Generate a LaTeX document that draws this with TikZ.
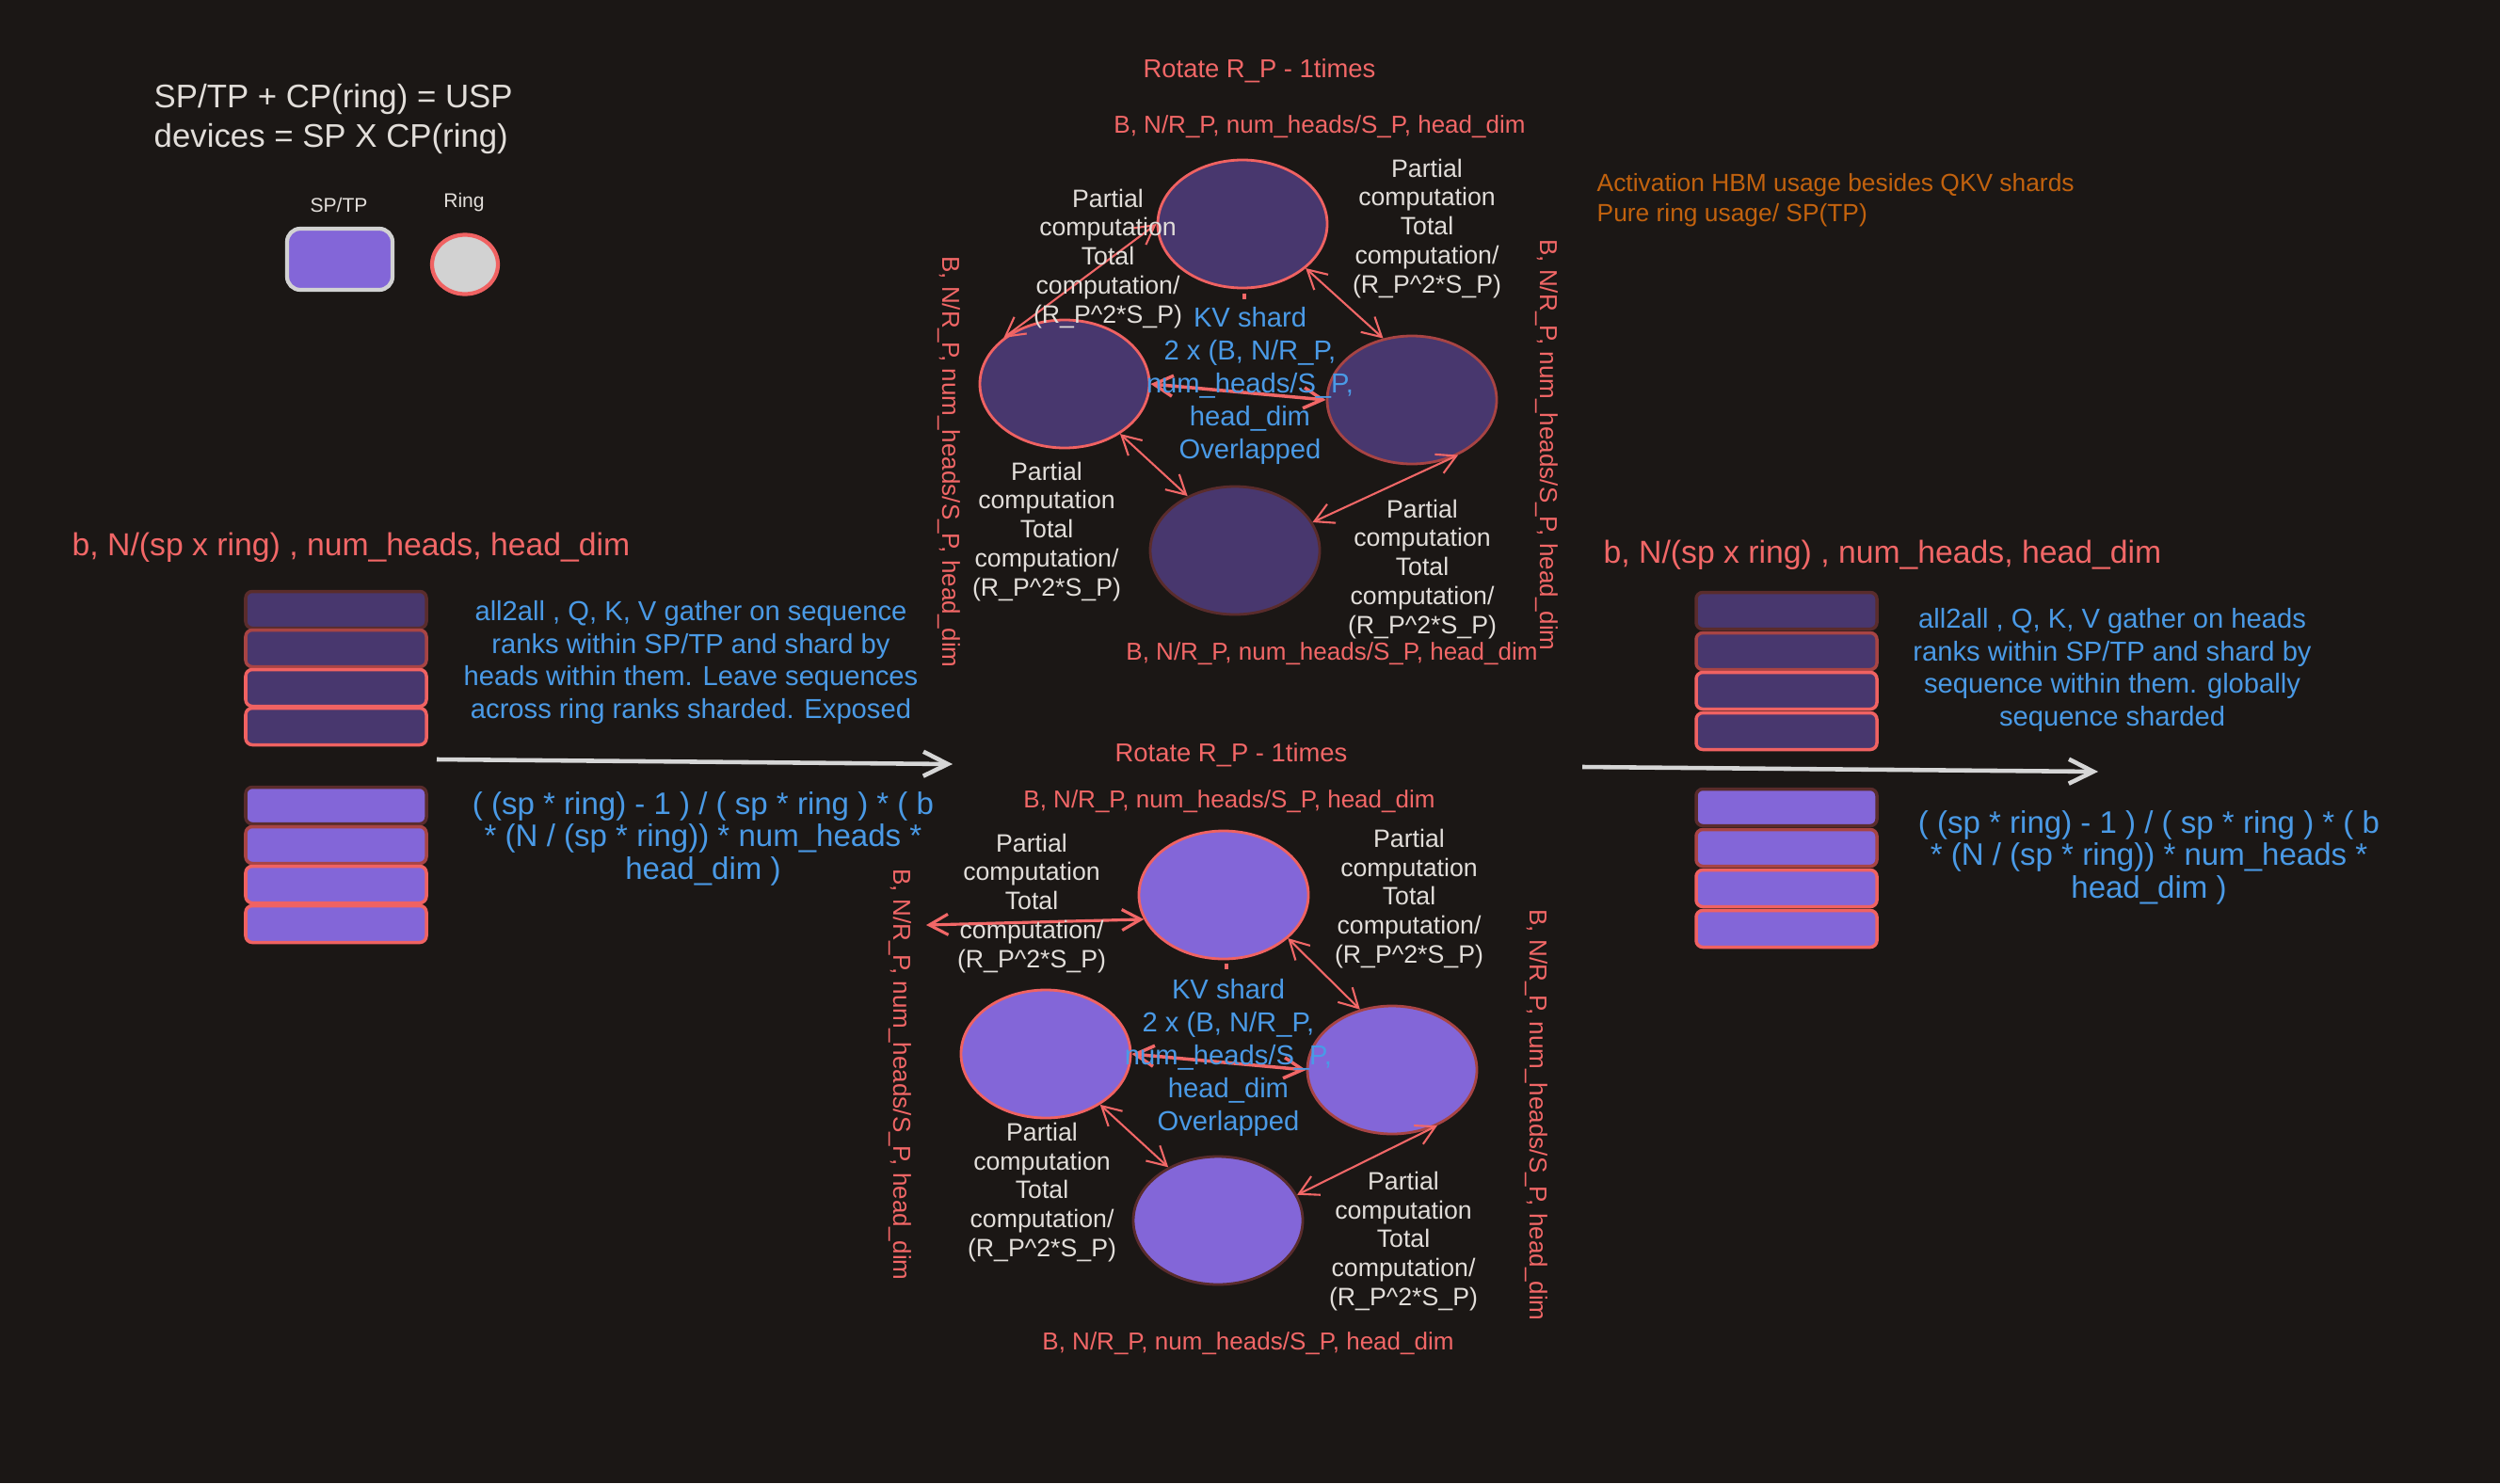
\documentclass[tikz,border=0pt]{standalone}
\usepackage{fontspec}
\setmainfont{Liberation Sans}
\usetikzlibrary{shapes.geometric,arrows.meta}

\definecolor{bgcol}{HTML}{1B1715}
\definecolor{redtxt}{HTML}{F26767}
\definecolor{bluetxt}{HTML}{4A9AE6}
\definecolor{whitetxt}{HTML}{E2DEDA}
\definecolor{orangetxt}{HTML}{C2620E}
\definecolor{darkpurple}{HTML}{48376E}
\definecolor{lightpurple}{HTML}{8366D8}
\definecolor{ringgray}{HTML}{D2D2D2}
\definecolor{edgea}{HTML}{F06262}
\definecolor{edgeb}{HTML}{A84444}
\definecolor{edgec}{HTML}{5A2C2C}
\definecolor{arrowgray}{HTML}{D6D6D6}

\tikzset{
  ringnode/.style={ellipse, minimum width=1.8cm, minimum height=1.36cm, inner sep=0pt, line width=0.8pt},
  shard/.style={rounded corners=2pt, minimum width=1.92cm, minimum height=0.39cm, inner sep=0pt, line width=1pt},
  dims/.style={text=redtxt, font=\fontsize{7.4}{9}\selectfont, inner sep=0pt},
  partial/.style={text=whitetxt, align=center, font=\fontsize{7.6}{8.8}\selectfont, inner sep=0pt},
  note/.style={text=bluetxt, align=center, font=\fontsize{8.3}{9.9}\selectfont, inner sep=0pt},
  cost/.style={note, font=\fontsize{9.4}{9.8}\selectfont},
  link/.style={<->, redtxt, line width=0.6pt},
  flow/.style={-{Straight Barb[length=2.6mm,width=2.6mm]}, arrowgray, line width=1.3pt}
}

\begin{document}
\begin{tikzpicture}[>={Straight Barb[length=2mm,width=2.2mm]}]
        \fill[bgcol] (0,0) rectangle (26.56,-15.76);

         % legend
        \node[text=whitetxt, align=left, anchor=west, inner sep=0pt, font=\fontsize{9.9}{11.7}\selectfont] (usp) at (1.63,-1.265) {SP/TP + CP(ring) = USP\\devices = SP X CP(ring)};
        \node[text=whitetxt, inner sep=0pt, font=\fontsize{6}{7}\selectfont] (legsp) at (3.60,-2.18) {SP/TP};
        \node[text=whitetxt, inner sep=0pt, font=\fontsize{6}{7}\selectfont] (legring) at (4.93,-2.15) {Ring};
        \node[draw=ringgray, fill=lightpurple, rounded corners=4pt, line width=1.2pt, minimum width=1.12cm, minimum height=0.65cm] (legbox) at (3.61,-2.755) {};
        \node[ellipse, draw=edgea, fill=ringgray, line width=1.2pt, inner sep=0pt, minimum width=0.70cm, minimum height=0.63cm] (legcirc) at (4.94,-2.81) {};

        \node[text=orangetxt, align=left, anchor=west, inner sep=0pt, font=\fontsize{7.5}{9}\selectfont] (hbm) at (16.96,-2.125) {Activation HBM usage besides QKV shards\\Pure ring usage/ SP(TP)};

         % left stacks
        \foreach \i/\y/\c in {1/6.48/edgec,2/6.89/edgeb,3/7.31/edgea,4/7.72/edgea}
          \node[shard, fill=darkpurple, draw=\c] (ltop\i) at (3.57,-\y) {};
        \foreach \i/\y/\c in {1/8.56/edgec,2/8.98/edgeb,3/9.40/edgea,4/9.82/edgea}
          \node[shard, fill=lightpurple, draw=\c] (lbot\i) at (3.57,-\y) {};

        \node[dims, font=\fontsize{9.6}{11}\selectfont] (lshape) at (3.73,-5.82) {b, N/(sp x ring) , num\_heads, head\_dim};
        \node[note] (lnote) at (7.34,-7.04) {all2all , Q, K, V gather on sequence\\ranks within SP/TP and shard by\\heads within them. Leave sequences\\across ring ranks sharded. Exposed};
        \node[cost] (lcost) at (7.47,-8.91) {( (sp * ring) - 1 ) / ( sp * ring ) * ( b\\* (N / (sp * ring)) * num\_heads *\\head\_dim )};
        \coordinate (lstart) at (4.64,-8.07);
        \coordinate (lend) at (10.12,-8.12);
        \draw[flow] (lstart) -- (lend);

         % ring A
        \node[ringnode, fill=darkpurple, draw=edgea] (atop) at (13.20,-2.38) {};
        \node[ringnode, fill=darkpurple, draw=edgea] (aleft) at (11.31,-4.08) {};
        \node[ringnode, fill=darkpurple, draw=edgeb] (aright) at (15.00,-4.25) {};
        \node[ringnode, fill=darkpurple, draw=edgec] (abot) at (13.12,-5.85) {};
        \draw[redtxt, line width=1pt] (13.22,-3.12) -- (13.22,-3.18);

        \draw[link] (atop.west) -- (aleft.north west);
        \draw[link] (atop.-35) -- (aright.115);
        \draw[link, line width=1pt] (aleft.east) -- (aright.west);
        \draw[link] (aleft.-42) -- (abot.131);
        \draw[link] (aright.-50) -- (abot.20);

        \node[dims, font=\fontsize{7.8}{9}\selectfont] (arot) at (13.38,-0.75) {Rotate R\_P - 1times};
        \node[dims] (atoplbl) at (14.02,-1.35) {B, N/R\_P, num\_heads/S\_P, head\_dim};
        \node[dims] (abotlbl) at (14.15,-6.95) {B, N/R\_P, num\_heads/S\_P, head\_dim};
        \node[dims, rotate=-90] (aleftlbl) at (10.08,-4.91) {B, N/R\_P, num\_heads/S\_P, head\_dim};
        \node[dims, rotate=-90] (arightlbl) at (16.43,-4.73) {B, N/R\_P, num\_heads/S\_P, head\_dim};

        \node[partial] (atl) at (11.77,-2.75) {Partial\\computation\\Total\\computation/\\(R\_P\textasciicircum 2*S\_P)};
        \node[partial] (atr) at (15.16,-2.43) {Partial\\computation\\Total\\computation/\\(R\_P\textasciicircum 2*S\_P)};
        \node[partial] (abl) at (11.12,-5.65) {Partial\\computation\\Total\\computation/\\(R\_P\textasciicircum 2*S\_P)};
        \node[partial] (abr) at (15.11,-6.05) {Partial\\computation\\Total\\computation/\\(R\_P\textasciicircum 2*S\_P)};
        \node[note] (akv) at (13.28,-4.10) {KV shard\\2 x (B, N/R\_P,\\num\_heads/S\_P,\\head\_dim\\Overlapped};

         % ring B
        \node[ringnode, fill=lightpurple, draw=edgea] (btop) at (13.00,-9.51) {};
        \node[ringnode, fill=lightpurple, draw=edgea] (bleft) at (11.11,-11.20) {};
        \node[ringnode, fill=lightpurple, draw=edgeb] (bright) at (14.79,-11.37) {};
        \node[ringnode, fill=lightpurple, draw=edgec] (bbot) at (12.94,-12.97) {};
        \draw[redtxt, line width=1pt] (13.03,-10.24) -- (13.03,-10.30);

        \coordinate (bfar) at (9.84,-9.83);
        \draw[link, line width=0.9pt] (btop.197) -- (bfar);
        \draw[link] (btop.-34) -- (bright.118);
        \draw[link, line width=1pt] (bleft.east) -- (bright.west);
        \draw[link] (bleft.-43) -- (bbot.133);
        \draw[link] (bright.-51) -- (bbot.18);

        \node[dims, font=\fontsize{7.8}{9}\selectfont] (brot) at (13.08,-8.02) {Rotate R\_P - 1times};
        \node[dims] (btoplbl) at (13.06,-8.52) {B, N/R\_P, num\_heads/S\_P, head\_dim};
        \node[dims] (bbotlbl) at (13.26,-14.28) {B, N/R\_P, num\_heads/S\_P, head\_dim};
        \node[dims, rotate=-90] (bleftlbl) at (9.56,-11.42) {B, N/R\_P, num\_heads/S\_P, head\_dim};
        \node[dims, rotate=-90] (brightlbl) at (16.32,-11.85) {B, N/R\_P, num\_heads/S\_P, head\_dim};

        \node[partial] (btl) at (10.96,-9.60) {Partial\\computation\\Total\\computation/\\(R\_P\textasciicircum 2*S\_P)};
        \node[partial] (btr) at (14.97,-9.55) {Partial\\computation\\Total\\computation/\\(R\_P\textasciicircum 2*S\_P)};
        \node[partial] (bbl) at (11.07,-12.67) {Partial\\computation\\Total\\computation/\\(R\_P\textasciicircum 2*S\_P)};
        \node[partial] (bbr) at (14.91,-13.19) {Partial\\computation\\Total\\computation/\\(R\_P\textasciicircum 2*S\_P)};
        \node[note] (bkv) at (13.05,-11.24) {KV shard\\2 x (B, N/R\_P,\\num\_heads/S\_P,\\head\_dim\\Overlapped};

         % right stacks
        \foreach \i/\y/\c in {1/6.49/edgec,2/6.92/edgeb,3/7.34/edgea,4/7.77/edgea}
          \node[shard, fill=darkpurple, draw=\c] (rtop\i) at (18.98,-\y) {};
        \foreach \i/\y/\c in {1/8.58/edgec,2/9.01/edgeb,3/9.44/edgea,4/9.87/edgea}
          \node[shard, fill=lightpurple, draw=\c] (rbot\i) at (18.98,-\y) {};

        \node[dims, font=\fontsize{9.6}{11}\selectfont] (rshape) at (20.00,-5.90) {b, N/(sp x ring) , num\_heads, head\_dim};
        \node[note] (rnote) at (22.44,-7.12) {all2all , Q, K, V gather on heads\\ranks within SP/TP and shard by\\sequence within them. globally\\sequence sharded};
        \node[cost] (rcost) at (22.83,-9.11) {( (sp * ring) - 1 ) / ( sp * ring ) * ( b\\* (N / (sp * ring)) * num\_heads *\\head\_dim )};
        \coordinate (rstart) at (16.81,-8.15);
        \coordinate (rend) at (22.29,-8.20);
        \draw[flow] (rstart) -- (rend);
      \end{tikzpicture}
\end{document}
